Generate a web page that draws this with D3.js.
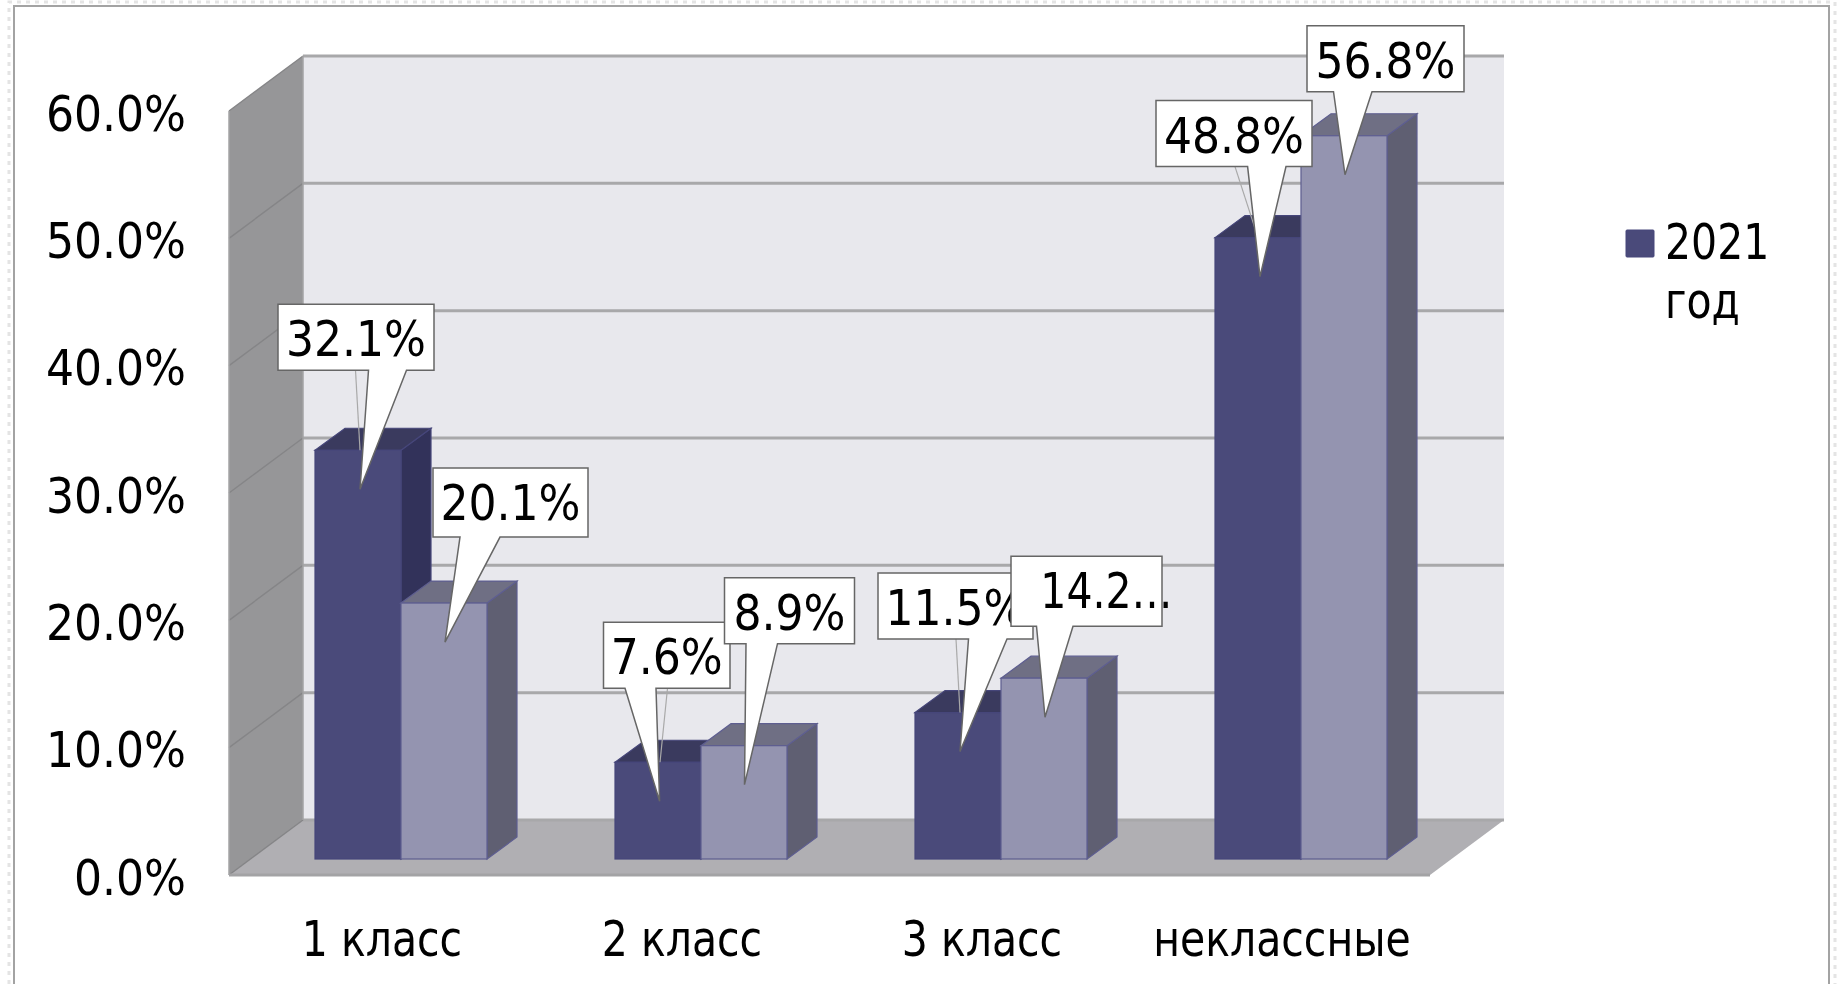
<!DOCTYPE html>
<html><head><meta charset="utf-8">
<script src="https://cdn.jsdelivr.net/npm/d3@7"></script>
<style>
html,body{margin:0;padding:0;background:#fff;overflow:hidden}
svg{display:block;filter:blur(0.5px)}
text{font-family:"DejaVu Sans",sans-serif;font-stretch:condensed;fill:#000}
</style></head><body>
<script>
// ---- data ----
const categories = ["1 класс", "2 класс", "3 класс", "неклассные"];
const seriesDark = [32.1, 7.6, 11.5, 48.8];
const seriesLight = [20.1, 8.9, 14.2, 56.8];
const labelsDark = ["32.1%", "7.6%", "11.5%", "48.8%"];
const labelsLight = ["20.1%", "8.9%", "14.2…", "56.8%"];
const yTicks = [0, 10, 20, 30, 40, 50, 60];
const legendLines = ["2021", "год"];

// ---- layout (not data) ----
const W = 1839, H = 984, FS = 49;
const wallLeft = 303, wallRight = 1504;
const depthFront = {dx: -74, dy: 55};   // wall plane to front of the floor
const barFront = 39;                    // wall plane to bar front, in y
const barDepth = {dx: 30, dy: -22};
const barW = 86, tipDrop = 39;
// callouts: box and pointer base relative to the bar centre / bar top
const calloutsDark = [
  {x:-80, y:-146, w:156, h:66, b0:10.5, b1:48.5, tip:2, leader:-2.5},
  {x:-54.5, y:-140, w:126.5, h:66, b0:-33, b1:-2, tip:1.6, leader:9.5},
  {x:-80, y:-139.5, w:155, h:66, b0:10.5, b1:49, tip:2, leader:-2},
  {x:-102, y:-137, w:156, h:66, b0:-10.4, b1:28, tip:2, leader:-23}
];
const calloutsLight = [
  {x:-11, y:-135, w:155, h:69, b0:16, b1:56, tip:1},
  {x:-19.5, y:-168, w:130, h:66, b0:2, b1:33.5, tip:.5},
  {x:-33, y:-122, w:151, h:70, b0:-7.5, b1:29, tip:1, textShift:20},
  {x:-37, y:-110, w:157, h:66, b0:-10.5, b1:28, tip:1}
];

const svg = d3.select("body").append("svg").attr("width", W).attr("height", H);

// Squeeze text that the condensed face sets wider than the reference.
function squeeze(sel, k){
  sel.each(function(){
    const len = this.getComputedTextLength() * k;
    d3.select(this).attr("textLength", len).attr("lengthAdjust", "spacingAndGlyphs");
  });
}

// page frame
svg.append("path").attr("d", `M9,${H}V2H1835V${H}`).attr("fill","none")
  .attr("stroke","#e4e4e4").attr("stroke-width",3).attr("stroke-dasharray","4 5");
svg.append("path").attr("d", `M14,${H}V6H1829V${H}`).attr("fill","none")
  .attr("stroke","#a3a3a3").attr("stroke-width",2);

const y = d3.scaleLinear().domain([0, 60]).range([820, 56]);
const x = d3.scaleBand().domain(categories).range([232, 1432]);
const poly = pts => "M" + pts.map(p => p.join(",")).join("L") + "Z";

const frontL = wallLeft + depthFront.dx, frontR = wallRight + depthFront.dx;
const y0 = y(0), y60 = y(60);

// walls
svg.append("path").attr("d", poly([[wallLeft,y60],[wallRight,y60],[wallRight,y0],[wallLeft,y0]])).attr("fill","#e8e8ed");
svg.append("path").attr("d", poly([[frontL,y60+depthFront.dy],[wallLeft,y60],[wallLeft,y0],[frontL,y0+depthFront.dy]])).attr("fill","#969698");
svg.append("path").attr("d", poly([[frontL,y0+depthFront.dy],[wallLeft,y0],[wallRight,y0],[frontR,y0+depthFront.dy]])).attr("fill","#b0afb3");

// gridlines
const grid = svg.append("g");
grid.selectAll(".gw").data(yTicks).join("line")
  .attr("x1",wallLeft).attr("x2",wallRight).attr("y1",d=>y(d)).attr("y2",d=>y(d))
  .attr("stroke","#a8a8aa").attr("stroke-width",3);
grid.selectAll(".gs").data(yTicks).join("line")
  .attr("x1",frontL).attr("x2",wallLeft).attr("y1",d=>y(d)+depthFront.dy).attr("y2",d=>y(d))
  .attr("stroke","#858587").attr("stroke-width",1.4);
svg.append("line").attr("x1",frontL).attr("x2",frontR).attr("y1",y0+depthFront.dy).attr("y2",y0+depthFront.dy)
  .attr("stroke","#a3a3a5").attr("stroke-width",3);
svg.append("line").attr("x1",frontL).attr("x2",frontL).attr("y1",y60+depthFront.dy).attr("y2",y0+depthFront.dy)
  .attr("stroke","#a3a3a5").attr("stroke-width",1.5);
svg.append("line").attr("x1",wallLeft).attr("x2",wallLeft).attr("y1",y60).attr("y2",y0)
  .attr("stroke","#a3a3a5").attr("stroke-width",1.5);

// axes
const yAxis = d3.axisLeft(y).tickValues(yTicks).tickSize(0).tickPadding(0).tickFormat(d => d.toFixed(1) + "%");
const gy = svg.append("g").attr("transform", `translate(186,${depthFront.dy})`).call(yAxis);
gy.select(".domain").remove();
gy.selectAll("text").attr("font-size",FS).attr("dy",19);
const xAxis = d3.axisBottom(x).tickSize(0).tickPadding(0);
const gx = svg.append("g").attr("transform", `translate(0,956)`).call(xAxis);
gx.select(".domain").remove();
gx.selectAll("text").attr("font-size",FS).attr("y",0).attr("dy",0).call(squeeze, 0.93);
gy.attr("font-family",null); gx.attr("font-family",null);

// 3-D bars
const groupW = barW * 2, groupShift = 19;
const barLeft = (c, i) => x(c) + x.bandwidth()/2 + groupShift - groupW/2 + i*barW;
function drawBars(values, idx, colors){
  const g = svg.append("g");
  const base = y0 + barFront;
  values.forEach((v, k) => {
    const l = barLeft(categories[k], idx), r = l + barW;
    const t = y(v) + barFront;
    const dx = barDepth.dx, dy = barDepth.dy;
    g.append("path").attr("d", poly([[r,t],[r+dx,t+dy],[r+dx,base+dy],[r,base]])).attr("fill",colors.side).attr("stroke",colors.edge).attr("stroke-width",1.2);
    g.append("path").attr("d", poly([[l,t],[l+dx,t+dy],[r+dx,t+dy],[r,t]])).attr("fill",colors.top).attr("stroke",colors.edge).attr("stroke-width",1.2);
    g.append("rect").attr("x",l).attr("y",t).attr("width",barW).attr("height",base-t).attr("fill",colors.front).attr("stroke",colors.edge).attr("stroke-width",1.2);
  });
}
drawBars(seriesDark, 0, {front:"#4a4a7a", top:"#3a3a5e", side:"#32325a", edge:"#46467a"});
drawBars(seriesLight, 1, {front:"#9494b0", top:"#6f6f84", side:"#5f5f72", edge:"#5e5e90"});

// callouts
function drawCallouts(values, labels, layout, idx){
  values.forEach((v, k) => {
    const c = layout[k];
    const cx = barLeft(categories[k], idx) + barW/2, top = y(v) + barFront;
    const bx = cx + c.x, by = top + c.y, bb = by + c.h;
    if (c.leader !== undefined)
      svg.append("line").attr("x1",cx+c.leader).attr("y1",bb).attr("x2",cx+(c.leader>0?2:c.leader<-10?0:2)).attr("y2",top)
        .attr("stroke","#a9a9a9").attr("stroke-width",1.2);
    const pts = [[bx,by],[bx+c.w,by],[bx+c.w,bb],[cx+c.b1,bb],[cx+c.tip,top+tipDrop],[cx+c.b0,bb],[bx,bb]];
    svg.append("path").attr("d", poly(pts)).attr("fill","#fff").attr("stroke","#666").attr("stroke-width",1.5);
    const t = svg.append("text").attr("x",bx+c.w/2+(c.textShift||0)).attr("y",by+52).attr("text-anchor","middle")
      .attr("font-size",FS).text(labels[k]);
    if (c.textShift) squeeze(t, 0.93);
  });
}
drawCallouts(seriesDark, labelsDark, calloutsDark, 0);
drawCallouts(seriesLight, labelsLight, calloutsLight, 1);

// legend
const lg = svg.append("g");
lg.append("rect").attr("x",1626).attr("y",230).attr("width",28).attr("height",27).attr("rx",1).attr("fill","#4a4a7a").attr("stroke","#46467a");
lg.selectAll("text").data(legendLines).join("text").attr("x",1665).attr("y",(d,i)=>259+i*59).attr("font-size",FS).text(d=>d).call(squeeze, 0.93);
</script>
</body></html>
